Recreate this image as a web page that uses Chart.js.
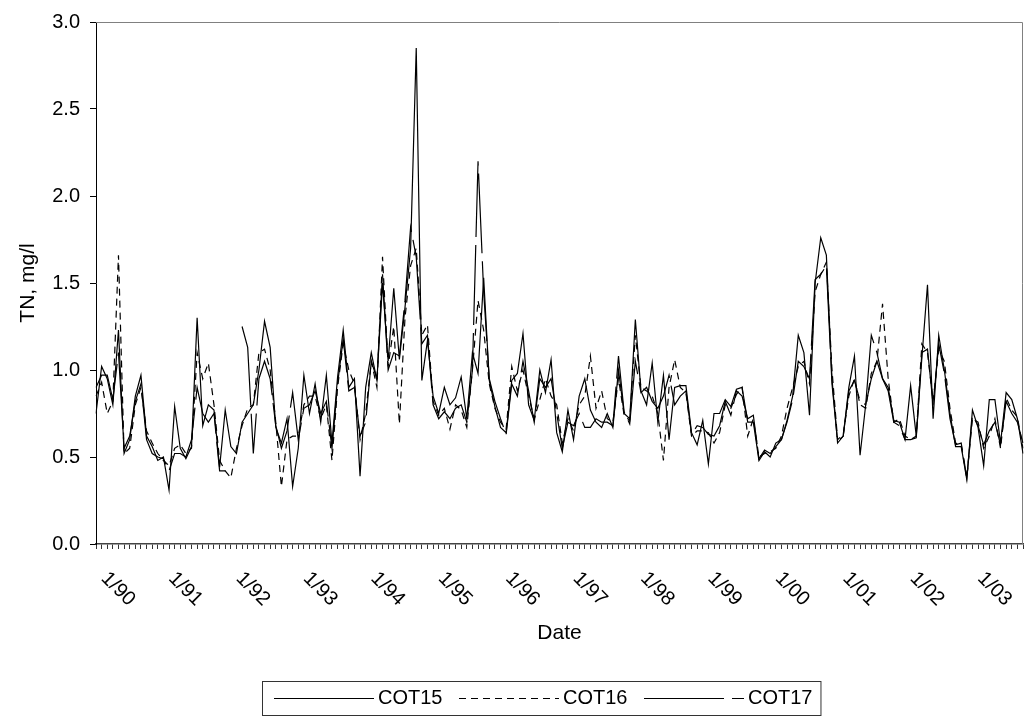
<!DOCTYPE html>
<html>
<head>
<meta charset="utf-8">
<script src="https://cdn.jsdelivr.net/npm/chart.js@4.4.1/dist/chart.umd.min.js"></script>
<style>
  html, body { margin: 0; padding: 0; background: #fff; }
  #wrap { width: 1026px; height: 721px; position: relative; }
</style>
</head>
<body>
<div id="wrap"><canvas id="chart"></canvas></div>
<script>
// monthly samples, Jan 1990 .. Oct 2003
const startYear = 1990;
const monthCount = 166;
const yearLabels = ['1/90', '1/91', '1/92', '1/93', '1/94', '1/95', '1/96',
                    '1/97', '1/98', '1/99', '1/00', '1/01', '1/02', '1/03'];
const yTicks = [0, 0.5, 1, 1.5, 2, 2.5, 3];

const cot15 = [
  0.75, 1.02, 0.95, 0.80, 1.23, 0.52, 0.60, 0.85, 0.97, 0.62, 0.56, 0.48,
  0.50, 0.31, 0.79, 0.55, 0.49, 0.56, 1.30, 0.68, 0.80, 0.77, 0.44, 0.77,
  0.56, 0.52, 0.70, 0.75, 0.80, 1.00, 1.28, 1.13, 0.67, 0.58, 0.72, 0.33,
  0.55, 0.97, 0.75, 0.92, 0.70, 0.97, 0.58, 0.96, 1.23, 0.90, 0.95, 0.39,
  0.90, 1.10, 0.94, 1.50, 1.05, 1.47, 1.06, 1.36, 1.70, 2.85, 0.94, 1.17,
  0.85, 0.75, 0.90, 0.80, 0.84, 0.96, 0.72, 1.10, 0.98, 1.53, 0.94, 0.79,
  0.67, 0.64, 0.94, 0.98, 1.21, 0.80, 0.71, 1.00, 0.87, 1.06, 0.64, 0.53,
  0.77, 0.60, 0.85, 0.95, 0.77, 0.70, 0.67, 0.75, 0.67, 1.00, 0.75, 0.72,
  1.29, 0.88, 0.80, 1.04, 0.70, 0.97, 0.60, 0.90, 0.91, 0.91, 0.64, 0.57,
  0.71, 0.46, 0.75, 0.75, 0.83, 0.79, 0.89, 0.90, 0.70, 0.70, 0.48, 0.53,
  0.50, 0.58, 0.60, 0.71, 0.85, 1.20, 1.10, 0.74, 1.50, 1.76, 1.66, 0.95,
  0.58, 0.62, 0.90, 1.08, 0.51, 0.80, 0.95, 1.05, 0.95, 0.90, 0.71, 0.70,
  0.60, 0.91, 0.62, 1.07, 1.49, 0.72, 1.20, 1.00, 0.75, 0.56, 0.56, 0.37,
  0.77, 0.67, 0.45, 0.83, 0.83, 0.58, 0.87, 0.83, 0.72, 0.52
];

const cot16 = [
  0.85, 0.93, 0.75, 0.82, 1.66, 0.52, 0.55, 0.80, 0.90, 0.65, 0.58, 0.52,
  0.48, 0.45, 0.55, 0.57, 0.52, 0.55, 1.10, 0.95, 1.04, 0.80, 0.48, 0.42,
  0.38, 0.55, 0.68, 0.78, 0.80, 1.10, 1.12, 1.00, 0.70, 0.33, 0.60, 0.62,
  0.62, 0.80, 0.85, 0.85, 0.72, 0.80, 0.48, 0.90, 1.15, 1.00, 0.92, 0.60,
  0.75, 1.05, 0.90, 1.65, 1.02, 1.25, 0.69, 1.30, 1.60, 1.70, 1.20, 1.26,
  0.82, 0.74, 0.78, 0.66, 0.80, 0.77, 0.67, 1.00, 1.40, 1.23, 0.92, 0.78,
  0.70, 0.66, 1.02, 0.88, 1.00, 0.85, 0.72, 0.83, 0.95, 0.85, 0.80, 0.58,
  0.72, 0.65, 0.80, 0.85, 1.08, 0.78, 0.88, 0.72, 0.70, 0.95, 0.74, 0.71,
  1.20, 0.90, 0.88, 0.85, 0.75, 0.48, 0.90, 1.06, 0.90, 0.87, 0.62, 0.65,
  0.65, 0.64, 0.58, 0.64, 0.80, 0.78, 0.86, 0.90, 0.62, 0.72, 0.50, 0.52,
  0.53, 0.55, 0.62, 0.78, 0.90, 1.02, 1.05, 0.92, 1.45, 1.55, 1.62, 1.00,
  0.60, 0.63, 0.85, 0.95, 0.80, 0.78, 0.98, 1.05, 1.38, 0.95, 0.70, 0.72,
  0.62, 0.60, 0.62, 1.15, 1.10, 0.82, 1.12, 1.05, 0.78, 0.58, 0.57, 0.38,
  0.72, 0.70, 0.55, 0.62, 0.72, 0.55, 0.84, 0.77, 0.73, 0.55
];

const cot17 = [
  0.90, 0.97, 0.97, 0.83, 1.10, 0.55, 0.62, 0.82, 0.92, 0.60, 0.52, 0.50,
  0.49, 0.42, 0.52, 0.52, 0.50, 0.60, 0.90, 0.75, 0.70, 0.75, 0.42, 0.42,
  null, null, 1.25, 1.13, 0.52, 0.95, 1.05, 0.95, 0.68, 0.55, 0.65, 0.87,
  0.60, 0.78, 0.80, 0.88, 0.75, 0.82, 0.55, 0.92, 1.18, 0.88, 0.90, 0.62,
  0.70, 1.05, 0.95, 1.55, 1.00, 1.10, 1.08, 1.40, 1.82, 1.65, 1.15, 1.20,
  0.80, 0.72, 0.76, 0.72, 0.78, 0.80, 0.70, 1.00, 2.20, 1.45, 0.95, 0.82,
  0.72, 0.63, 0.92, 0.85, 1.05, 0.88, 0.70, 0.95, 0.90, 0.95, 0.75, 0.55,
  0.70, 0.68, 0.75, 0.67, 0.67, 0.72, 0.70, 0.70, 0.68, 1.08, 0.76, 0.69,
  1.05, 0.87, 0.90, 0.82, 0.78, 0.85, 0.97, 0.80, 0.85, 0.88, 0.63, 0.68,
  0.67, 0.63, 0.62, 0.68, 0.82, 0.74, 0.88, 0.85, 0.72, 0.74, 0.49, 0.54,
  0.52, 0.56, 0.60, 0.70, 0.83, 1.05, 1.02, 0.95, 1.52, 1.55, 1.60, 0.92,
  0.59, 0.62, 0.88, 0.94, 0.82, 0.80, 1.20, 1.10, 0.95, 0.88, 0.70, 0.68,
  0.60, 0.60, 0.61, 1.10, 1.12, 0.80, 1.15, 0.98, 0.72, 0.57, 0.58, 0.38,
  0.74, 0.68, 0.57, 0.65, 0.70, 0.57, 0.82, 0.75, 0.70, 0.58
];

const months = [];
for (let i = 0; i < monthCount; i++) {
  const yy = String((startYear + Math.floor(i / 12)) % 100).padStart(2, '0');
  months.push((i % 12 + 1) + '/' + yy);
}

const FONT = "'Liberation Sans', Arial, sans-serif";

// plot-area frame (top/right), rotated year labels, boxed legend
const extras = {
  id: 'extras',
  beforeDatasetsDraw(chart) {
    const { ctx, chartArea: a } = chart;
    ctx.save();
    ctx.strokeStyle = '#808080';
    ctx.lineWidth = 1;
    ctx.beginPath();
    ctx.moveTo(a.left, Math.round(a.top) + 0.5);
    ctx.lineTo(a.right - 0.5, Math.round(a.top) + 0.5);
    ctx.lineTo(a.right - 0.5, a.bottom);
    ctx.stroke();
    ctx.restore();
  },
  afterDraw(chart) {
    const ctx = chart.ctx;
    const x = chart.scales.x;
    const bottom = chart.chartArea.bottom;
    ctx.save();
    ctx.fillStyle = '#000';
    ctx.font = '20px ' + FONT;
    ctx.textAlign = 'center';
    ctx.textBaseline = 'middle';
    yearLabels.forEach((lab, k) => {
      const px = x.getPixelForValue(k * 12);
      ctx.save();
      ctx.translate(px + 22, bottom + 45);
      ctx.rotate(Math.PI / 4);
      ctx.fillText(lab, 0, 0);
      ctx.restore();
    });

    // legend
    const textX = [378, 563, 748];
    const lineLen = 100, gap = 4, midY = 698;
    ctx.textAlign = 'left';
    chart.data.datasets.forEach((ds, i) => {
      ctx.save();
      ctx.strokeStyle = ds.borderColor;
      ctx.lineWidth = ds.borderWidth;
      ctx.setLineDash(ds.borderDash || []);
      ctx.beginPath();
      ctx.moveTo(textX[i] - gap - lineLen, midY + 0.5);
      ctx.lineTo(textX[i] - gap, midY + 0.5);
      ctx.stroke();
      ctx.restore();
      ctx.fillText(ds.label, textX[i], midY);
    });
    const right = textX[2] + ctx.measureText('COT17').width + 8;
    ctx.strokeStyle = '#333';
    ctx.lineWidth = 1;
    ctx.strokeRect(262.5, 681.5, right - 262, 34);
    ctx.restore();
  }
};

const ctx = document.getElementById('chart').getContext('2d');
new Chart(ctx, {
  type: 'line',
  data: {
    labels: months,
    datasets: [
      { label: 'COT15', data: cot15, borderColor: '#000', borderWidth: 1.2 },
      { label: 'COT16', data: cot16, borderColor: '#000', borderWidth: 1.2, borderDash: [7, 5] },
      { label: 'COT17', data: cot17, borderColor: '#000', borderWidth: 1.2, borderDash: [80, 8] },
    ],
  },
  options: {
    responsive: true,
    maintainAspectRatio: false,
    animation: false,
    devicePixelRatio: 1,
    layout: { padding: { top: 22, right: 0, left: 0, bottom: 0 } },
    elements: {
      point: { radius: 0, hoverRadius: 0 },
      line: { tension: 0, spanGaps: false },
    },
    plugins: {
      tooltip: { enabled: false },
      legend: { display: false },
    },
    scales: {
      x: {
        type: 'category',
        offset: false,
        grid: { display: true, drawOnChartArea: false, drawTicks: true, tickLength: 5, color: '#333' },
        border: { color: '#444', width: 1.5 },
        ticks: { autoSkip: false, maxRotation: 0, minRotation: 0, callback: () => '' },
        title: {
          display: true,
          text: 'Date',
          color: '#000',
          font: { family: FONT, size: 21 },
          padding: { top: 0, bottom: 75 },
        },
        afterFit(scale) { scale.height = 177; },
      },
      y: {
        min: 0,
        max: 3,
        afterBuildTicks(scale) { scale.ticks = yTicks.map(v => ({ value: v })); },
        grid: { drawOnChartArea: false, drawTicks: true, tickLength: 6, color: '#000' },
        border: { color: '#000', width: 1 },
        ticks: {
          color: '#000',
          padding: 10,
          font: { family: FONT, size: 20 },
          callback: v => Number(v).toFixed(1),
        },
        title: {
          display: true,
          text: 'TN, mg/l',
          color: '#000',
          font: { family: FONT, size: 21 },
          padding: { top: 16, bottom: 0 },
        },
        afterFit(scale) { scale.width = 96; },
      },
    },
  },
  plugins: [extras],
});
</script>
</body>
</html>
